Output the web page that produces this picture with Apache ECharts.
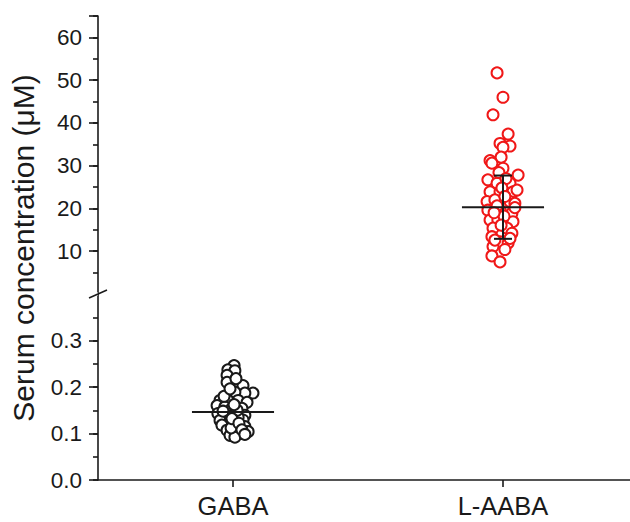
<!DOCTYPE html>
<html><head><meta charset="utf-8">
<script src="https://cdn.jsdelivr.net/npm/echarts@6/dist/echarts.min.js"></script>
<style>html,body{margin:0;padding:0;background:#fff}#c{width:630px;height:522px}</style>
</head><body><div id="c"></div>
<script>
// ---- data ----
const categories = ['GABA', 'L-AABA'];
const yTitle = 'Serum concentration (μM)';
const gabaValues = [0.246,0.237,0.235,0.225,0.210,0.207,0.203,0.187,0.187,0.189,0.171,0.171,0.171,0.167,0.160,0.157,0.154,0.154,0.143,0.139,0.143,0.139,0.128,0.125,0.129,0.118,0.115,0.115,0.107,0.103,0.104,0.096,0.100,0.092,0.112,0.135,0.148,0.150,0.132,0.122,0.162,0.180,0.196,0.218,0.108,0.098];
const gabaJitter = [0.004,-0.019,0.007,-0.022,-0.022,0.015,0.037,0.074,0.044,0.007,-0.048,-0.019,0.019,0.052,-0.059,-0.030,-0.004,0.033,-0.056,-0.022,0.007,0.044,-0.048,-0.011,0.037,-0.041,0.007,0.044,-0.022,0.019,0.056,-0.011,0.033,0.007,-0.007,0.019,-0.037,0.015,-0.004,0.022,0.004,-0.033,-0.011,0.011,0.033,0.044];
const aabaValues = [51.7,46.0,41.9,37.4,35.2,34.6,34.3,32.0,31.2,29.4,27.8,30.6,26.7,25.9,25.9,23.9,23.9,23.9,21.6,22.0,21.6,21.2,19.6,19.6,18.9,17.3,17.3,16.9,15.4,15.4,14.2,13.4,12.2,11.9,11.1,8.9,7.5,28.4,27.0,24.8,22.8,20.6,20.2,18.2,16.1,13.0,12.6,10.4,24.3,19.0];
const aabaJitter = [-0.022,0.0,-0.037,0.019,-0.011,0.026,0.0,-0.007,-0.048,0.0,0.056,-0.041,-0.056,-0.022,0.026,-0.048,-0.011,0.037,-0.059,-0.030,0.026,0.044,-0.056,-0.011,0.033,-0.048,-0.019,0.037,-0.037,0.015,0.033,-0.041,-0.011,0.019,-0.037,-0.041,-0.011,-0.015,0.011,-0.004,0.007,-0.022,0.044,0.004,-0.007,0.026,-0.030,0.007,0.052,-0.033];
const groupMeans = [0.146, 20.3];
const groupSDs = [0.040, 7.4];
const upperLabels = [10, 20, 30, 40, 50, 60];
const lowerLabels = [0, 0.1, 0.2, 0.3];

// ---- style ----
const FONT = 'Liberation Sans, Arial, Helvetica, sans-serif';
const INK = '#1a1a1a';
const RED = '#f01818';
const MEAN_HALF = 0.152;   // x-units
const CAP_HALF = 9;        // px
const X_MIN = -0.5, X_MAX = 1.5;
const GRID_LEFT = 98, GRID_WIDTH = 540;

const chart = echarts.init(document.getElementById('c'), null, {renderer: 'svg'});

function meanItem(params, api) {
  const x = api.value(0), m = api.value(1);
  const a = api.coord([x - MEAN_HALF, m]), b = api.coord([x + MEAN_HALF, m]);
  return {type: 'line', shape: {x1: a[0], y1: a[1], x2: b[0], y2: b[1]}, style: {stroke: INK, lineWidth: 2}};
}
function errItem(params, api) {
  const x = api.value(0), m = api.value(1), s = api.value(2);
  const t = api.coord([x, m + s]), b = api.coord([x, m - s]);
  const st = {stroke: INK, lineWidth: 2};
  return {type: 'group', children: [
    {type: 'line', shape: {x1: t[0], y1: t[1], x2: b[0], y2: b[1]}, style: st},
    {type: 'line', shape: {x1: t[0] - CAP_HALF, y1: t[1], x2: t[0] + CAP_HALF, y2: t[1]}, style: st},
    {type: 'line', shape: {x1: b[0] - CAP_HALF, y1: b[1], x2: b[0] + CAP_HALF, y2: b[1]}, style: st}
  ]};
}

const lineSt = {color: INK, width: 1.6};
const labelStyle = {color: INK, fontFamily: FONT};
const noAxis = {show: false, onZero: false};

function majorY(grid, max, interval, labels, fmt) {
  return {type: 'value', gridIndex: grid, position: 'left', min: 0, max: max, interval: interval,
    axisLine: {show: true, onZero: false, lineStyle: lineSt},
    axisTick: {show: true, length: 9, lineStyle: lineSt},
    axisLabel: Object.assign({customValues: labels, fontSize: 22.5, margin: 16, formatter: fmt}, labelStyle),
    splitLine: {show: false}};
}
function minorY(grid, max, interval) {
  return {type: 'value', gridIndex: grid, position: 'left', offset: 0, min: 0, max: max, interval: interval,
    axisLine: noAxis, axisTick: {show: true, length: 5, lineStyle: lineSt},
    axisLabel: {show: false}, splitLine: {show: false}};
}

const option = {
  backgroundColor: '#fff',
  animation: false,
  grid: [
    {left: GRID_LEFT, width: GRID_WIDTH, top: 16, height: 278, outerBoundsMode: 'none', containLabel: false},
    {left: GRID_LEFT, width: GRID_WIDTH, top: 294, height: 186, outerBoundsMode: 'none', containLabel: false},
    {left: GRID_LEFT, width: GRID_WIDTH, top: 16, height: 464, outerBoundsMode: 'none', containLabel: false}
  ],
  xAxis: [
    {type: 'value', gridIndex: 0, min: X_MIN, max: X_MAX, show: false},
    {type: 'value', gridIndex: 1, min: X_MIN, max: X_MAX, show: false},
    {type: 'category', gridIndex: 1, data: categories, boundaryGap: true, position: 'bottom',
      axisLine: {show: true, onZero: false, lineStyle: lineSt},
      axisTick: {show: true, alignWithLabel: true, length: 7, lineStyle: lineSt},
      axisLabel: Object.assign({fontSize: 25.5, margin: 13}, labelStyle),
      splitLine: {show: false}},
    {type: 'value', gridIndex: 2, min: X_MIN, max: X_MAX, show: false}
  ],
  yAxis: [
    majorY(0, 65, 10, upperLabels, v => String(v)),
    minorY(0, 65, 5),
    majorY(1, 0.4, 0.1, lowerLabels, v => v.toFixed(1)),
    minorY(1, 0.4, 0.05),
    {type: 'value', gridIndex: 2, min: 0, max: 1, position: 'left',
      axisLine: noAxis, axisTick: {show: false}, axisLabel: {show: false}, splitLine: {show: false},
      name: yTitle, nameLocation: 'middle', nameGap: 60,
      nameTextStyle: {fontSize: 30, color: INK, fontFamily: FONT}}
  ],
  series: [
    {type: 'custom', name: 'GABA SD', xAxisIndex: 1, yAxisIndex: 2, z: 1,
      data: [[0, groupMeans[0], groupSDs[0]]], renderItem: errItem},
    {type: 'scatter', name: categories[0], xAxisIndex: 1, yAxisIndex: 2, z: 3,
      symbol: 'circle', symbolSize: 11,
      itemStyle: {color: '#fff', borderColor: INK, borderWidth: 2, opacity: 1},
      data: gabaValues.map((v, i) => [0 + gabaJitter[i], v])},
    {type: 'custom', name: 'GABA mean', xAxisIndex: 1, yAxisIndex: 2, z: 5,
      data: [[0, groupMeans[0]]], renderItem: meanItem},
    {type: 'scatter', name: categories[1], xAxisIndex: 0, yAxisIndex: 0, z: 3,
      symbol: 'circle', symbolSize: 11,
      itemStyle: {color: '#fff', borderColor: RED, borderWidth: 2, opacity: 1},
      data: aabaValues.map((v, i) => [1 + aabaJitter[i], v])},
    {type: 'custom', name: 'L-AABA mean', xAxisIndex: 0, yAxisIndex: 0, z: 5,
      data: [[1, groupMeans[1]]], renderItem: meanItem},
    {type: 'custom', name: 'L-AABA SD', xAxisIndex: 0, yAxisIndex: 0, z: 5,
      data: [[1, groupMeans[1], groupSDs[1]]], renderItem: errItem}
  ]
};
chart.setOption(option);

// axis-break slash at the junction of the two y segments
const bp = chart.convertToPixel({xAxisIndex: 1, yAxisIndex: 2}, [X_MIN, 0.4]);
chart.setOption({graphic: [
  {type: 'line', z: 10, shape: {x1: bp[0] - 9, y1: bp[1], x2: bp[0], y2: bp[1]},
    style: {stroke: '#fff', lineWidth: 3}},
  {type: 'line', z: 11,
    shape: {x1: bp[0] - 9, y1: bp[1] + 4, x2: bp[0] + 9, y2: bp[1] - 4},
    style: {stroke: INK, lineWidth: 1.6}}]});
</script></body></html>
